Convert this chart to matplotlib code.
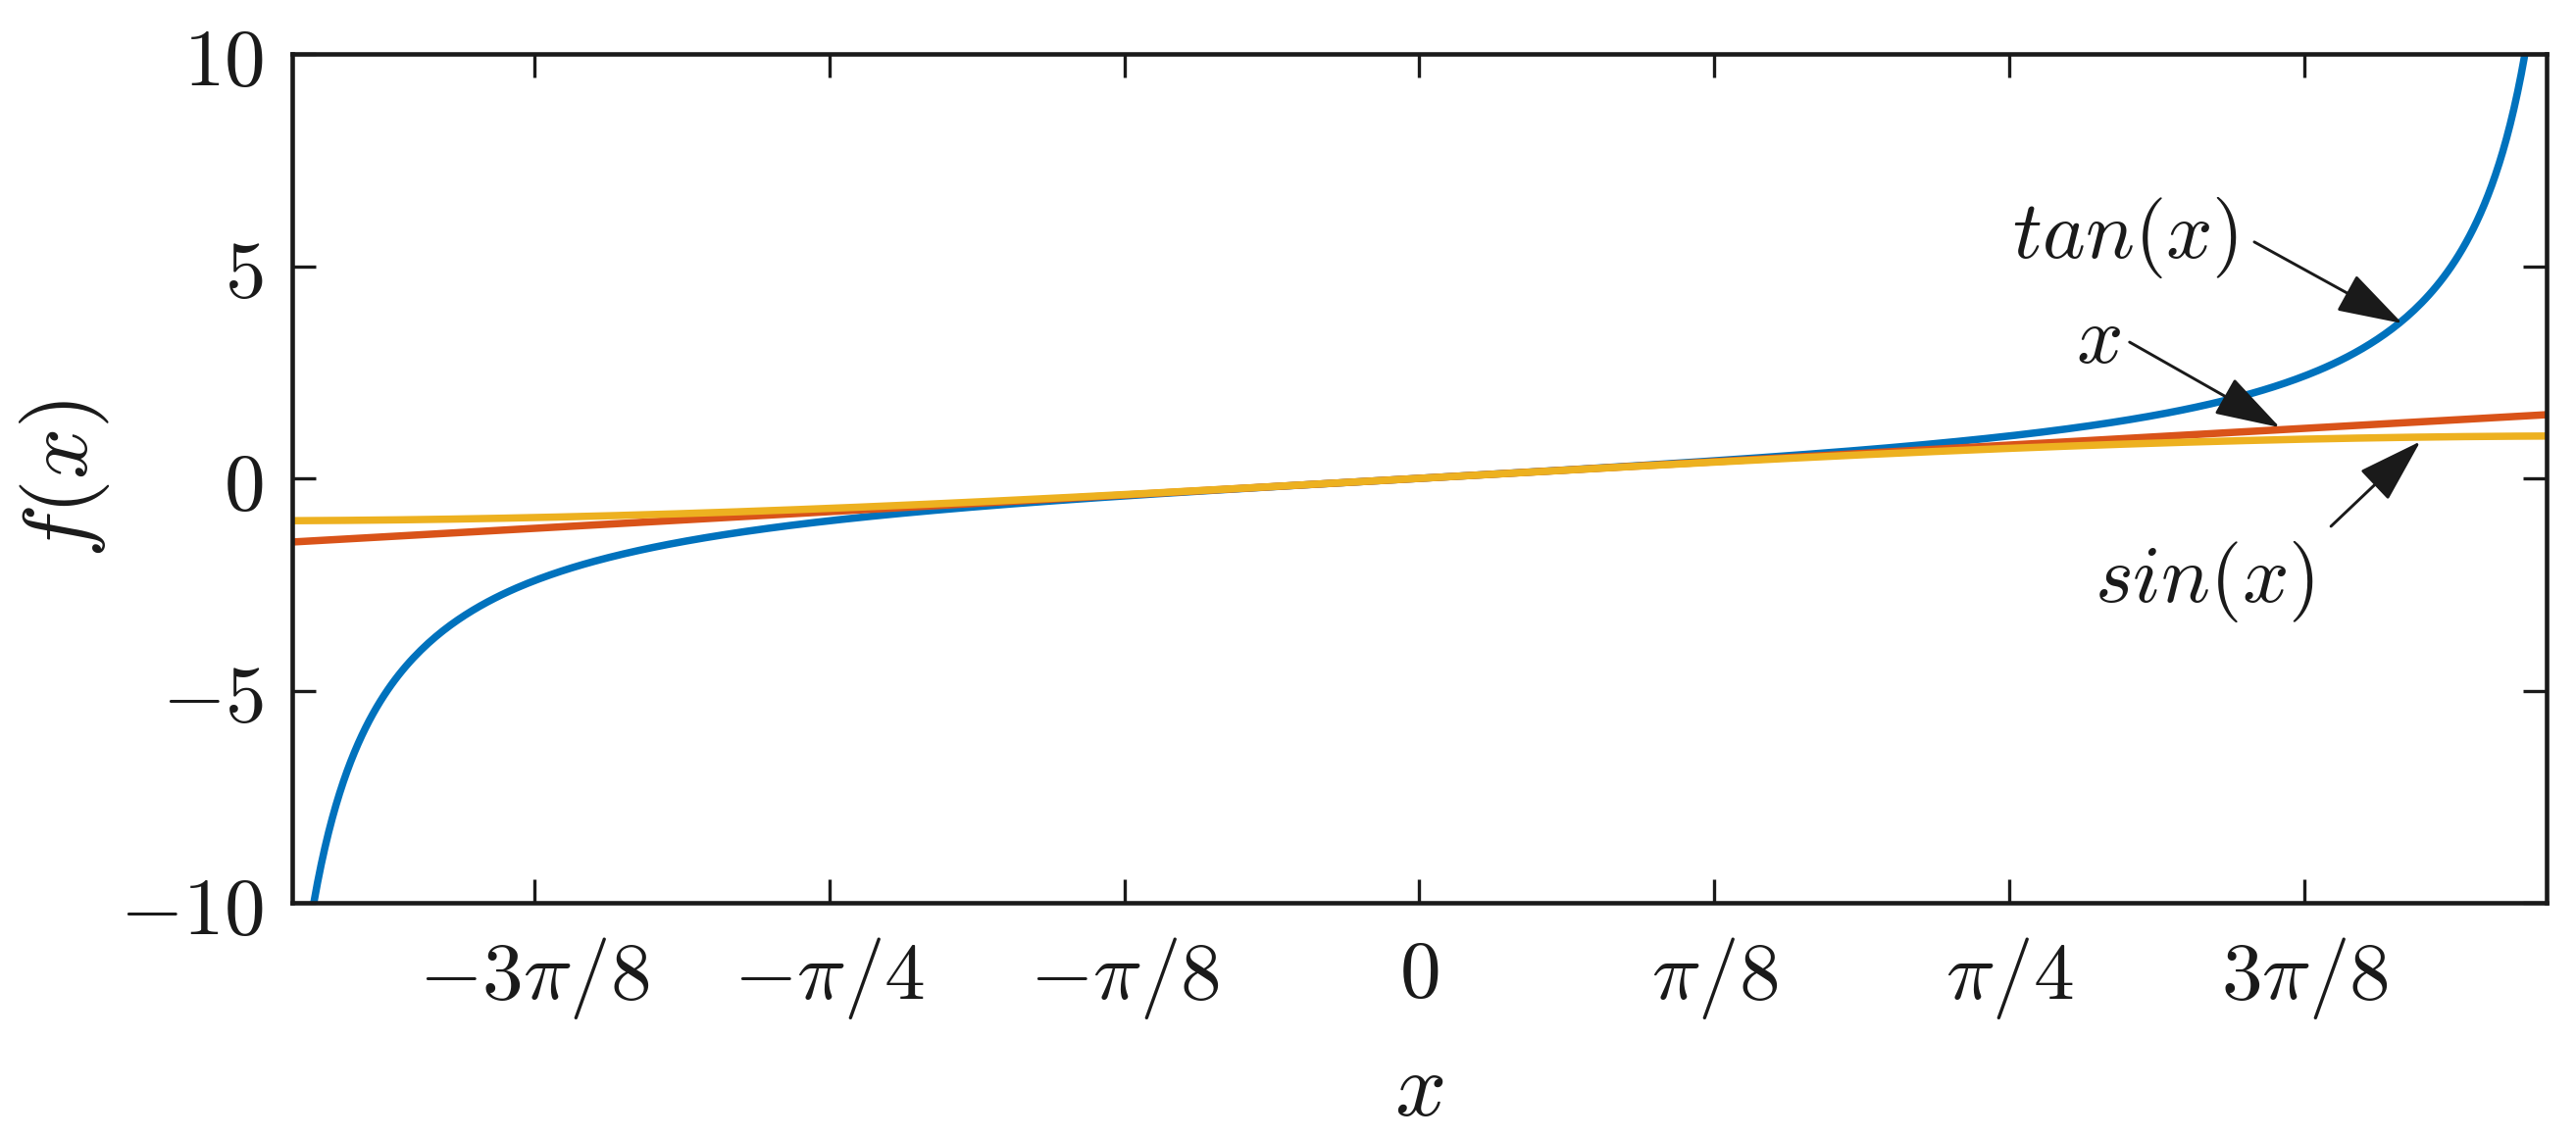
import numpy as np
import matplotlib
matplotlib.use("Agg")
import matplotlib.pyplot as plt

# plot range and curves
x_lim = [-1.5, 1.5]
y_lim = [-10, 10]
tan_clip = 10  # tan(x) drawn until it leaves the +-10 window

x_ticks = [-3 * np.pi / 8, -np.pi / 4, -np.pi / 8, 0, np.pi / 8, np.pi / 4, 3 * np.pi / 8]
x_tick_labels = [r'$-3\pi/8$', r'$-\pi/4$', r'$-\pi/8$', r'$0$', r'$\pi/8$', r'$\pi/4$', r'$3\pi/8$']
y_ticks = [-10, -5, 0, 5, 10]
y_tick_labels = [r'$-10$', r'$-5$', r'$0$', r'$5$', r'$10$']

# annotation label, text anchor, arrow tail, arrow head (data coords)
notes = [
    (r'$tan(x)$', (1.089, 5.67), 'right', (1.111, 5.57), (1.308, 3.65)),
    (r'$x$',      (0.904, 3.26), 'center', (0.945, 3.21), (1.145, 1.20)),
    (r'$sin(x)$', (1.045, -2.44), 'center', (1.213, -1.13), (1.332, 0.87)),
]

blue = '#0072BD'
red = '#D95319'
yellow = '#EDB120'

plt.rcParams['mathtext.fontset'] = 'cm'
plt.rcParams['font.family'] = 'serif'
plt.rcParams['font.serif'] = ['DejaVu Serif']

fig = plt.figure(figsize=(2627 / 300, 1161 / 300), dpi=300)
ax = fig.add_axes([0.1134, 0.2067, 0.8752, 0.7459])

xt = np.linspace(np.arctan(-tan_clip), np.arctan(tan_clip), 600)
xs = np.linspace(x_lim[0], x_lim[1], 300)

ax.plot(xt, np.tan(xt), color=blue, lw=1.8)
ax.plot(xs, xs, color=red, lw=1.8)
ax.plot(xs, np.sin(xs), color=yellow, lw=1.8)

ax.set_xlim(x_lim)
ax.set_ylim(y_lim)
ax.set_xticks(x_ticks)
ax.set_xticklabels(x_tick_labels)
ax.set_yticks(y_ticks)
ax.set_yticklabels(y_tick_labels)
ax.tick_params(direction='in', length=5.7, width=0.8, labelsize=20,
               top=True, right=True, colors='#1a1a1a')
ax.tick_params(axis='x', pad=8)
ax.tick_params(axis='y', pad=7)
for s in ax.spines.values():
    s.set_linewidth(1.1)
    s.set_color('#1a1a1a')

ax.set_xlabel(r'$x$', fontsize=22, color='#1a1a1a')
ax.set_ylabel(r'$f(x)$', fontsize=22, color='#1a1a1a')
ax.xaxis.set_label_coords(0.5, -0.17)
ax.yaxis.set_label_coords(-0.080, 0.5)

for label, txy, ha, tail, head in notes:
    ax.text(txy[0], txy[1], label, fontsize=20, ha=ha, va='center', color='#1a1a1a')
    ax.annotate('', xy=head, xytext=tail,
                arrowprops=dict(arrowstyle='-|>,head_length=0.7,head_width=0.22',
                                mutation_scale=20, lw=0.7, color='#1a1a1a',
                                shrinkA=0, shrinkB=0))

fig.savefig('out.png', dpi=300)
